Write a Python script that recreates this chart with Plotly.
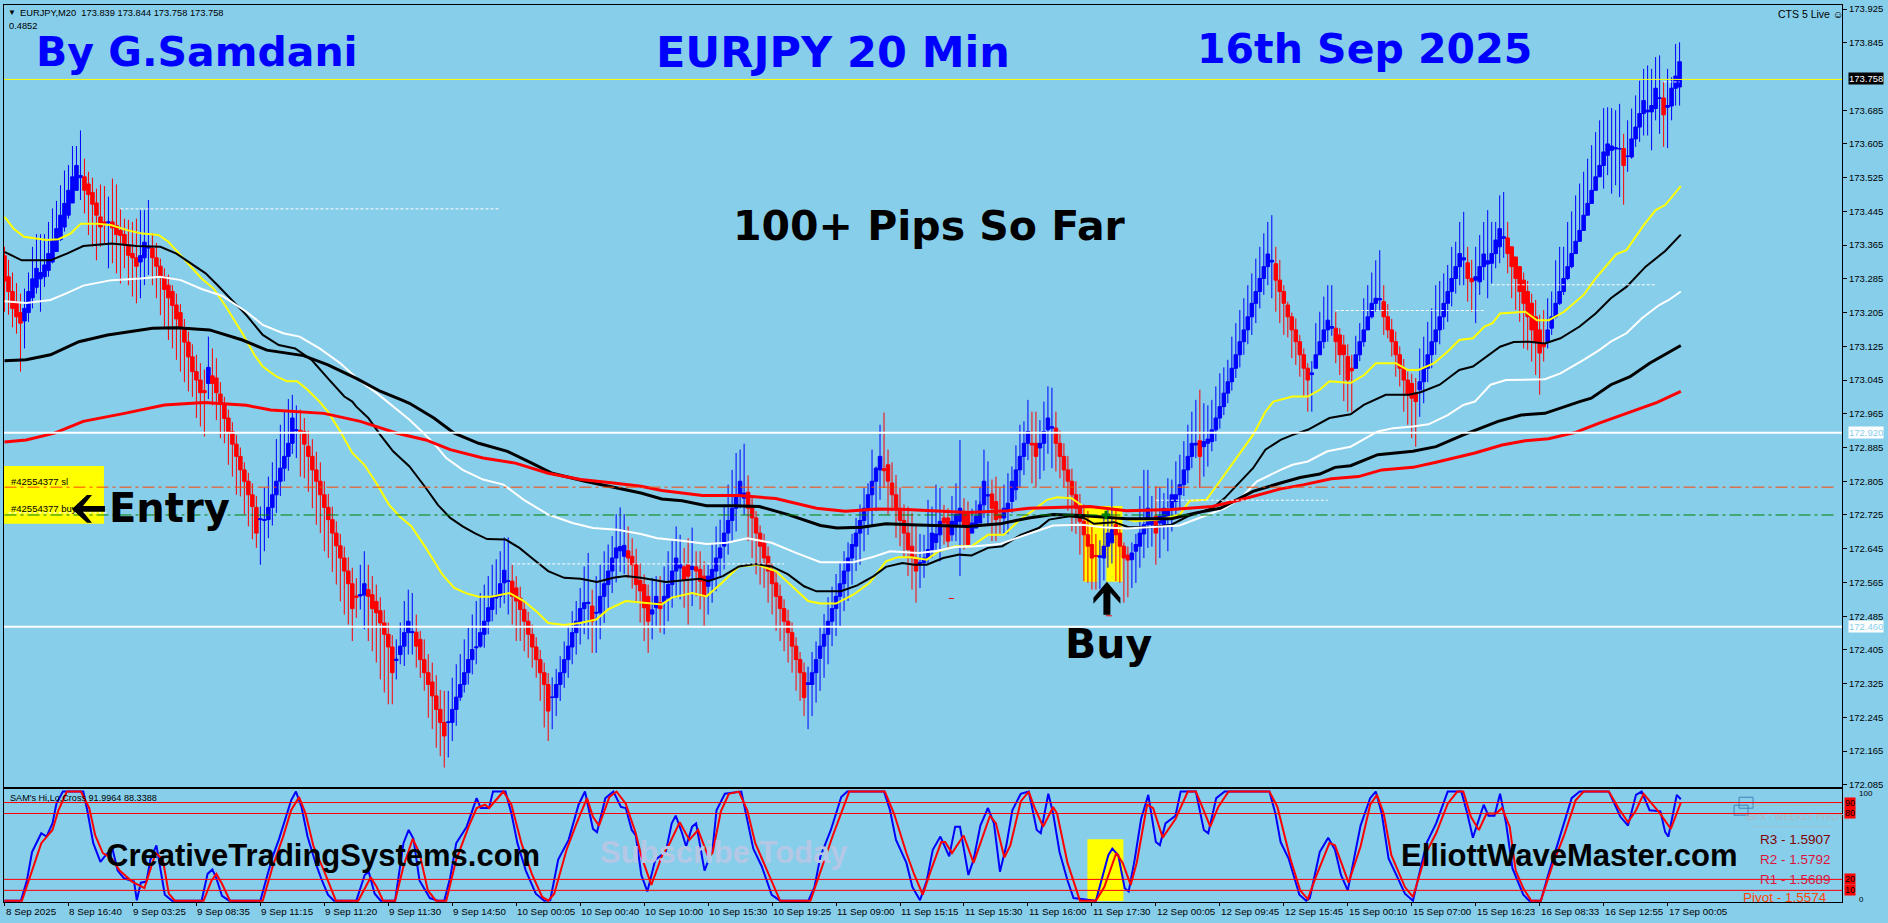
import plotly.graph_objects as go
from plotly.subplots import make_subplots

# prices are kept as points above 172.000 (1758 -> 173.758)
BASE = 172.0

opens_pts = [
    1340,1290,1255,1230,1205,1185,1205,1240,1265,1285,
    1290,1305,1325,1350,1378,1408,1436,1465,1495,1525,
    1527,1510,1490,1465,1432,1420,1418,1420,1412,1400,
    1390,1365,1345,1335,1325,1335,1358,1358,1335,1315,
    1290,1270,1255,1223,1205,1165,1135,1100,1065,1045,
    1020,1037,1055,1050,1012,986,955,923,893,864,
    832,805,773,743,714,712,714,743,773,805,
    836,864,895,925,926,923,888,864,832,805,
    773,743,714,682,652,623,592,562,533,533,
    535,548,536,520,498,469,442,412,380,394,
    414,446,446,447,430,382,351,329,296,264,
    233,233,233,264,293,323,351,382,410,414,
    442,473,501,528,532,564,567,568,552,528,
    501,473,442,412,382,351,323,292,292,323,
    351,382,412,446,473,503,515,509,492,493,
    532,560,592,623,640,627,640,627,607,570,
    560,532,490,505,517,519,528,560,592,599,
    602,607,596,602,596,580,556,572,592,623,
    651,682,712,741,773,765,779,745,718,682,
    659,627,592,564,532,503,473,446,414,382,
    351,323,323,351,385,414,442,473,503,532,
    562,592,623,651,682,712,741,773,805,832,
    835,844,801,773,741,712,682,651,623,610,
    612,623,643,660,678,718,718,678,702,710,
    734,726,682,694,706,749,770,775,757,725,
    718,738,757,785,832,864,895,895,895,884,
    895,927,931,931,895,864,832,805,773,741,
    710,678,655,629,625,623,651,659,702,682,
    651,630,619,639,651,680,702,702,722,706,
    702,722,741,757,773,797,832,864,891,901,
    887,895,899,927,955,982,1014,1041,1073,1105,
    1136,1164,1195,1227,1255,1286,1314,1325,1321,1282,
    1255,1223,1195,1164,1136,1105,1073,1058,1073,1105,
    1136,1164,1168,1168,1152,1128,1101,1073,1073,1105,
    1136,1164,1195,1227,1235,1231,1195,1164,1136,1105,
    1073,1045,1037,1014,1022,1041,1073,1105,1136,1164,
    1195,1227,1255,1286,1314,1330,1323,1286,1282,1278,
    1314,1320,1322,1345,1361,1381,1382,1361,1337,1314,
    1282,1255,1227,1195,1164,1132,1136,1168,1195,1227,
    1255,1286,1314,1345,1374,1400,1436,1464,1495,1527,
    1554,1578,1590,1593,1593,1594,1575,1574,1617,1645,
    1677,1681,1681,1689,1713,1714,1692,1695,1737,1740,
]
closes_pts = [
    1280,1255,1215,1195,1180,1215,1255,1285,1310,1300,
    1318,1345,1377,1404,1436,1464,1495,1527,1554,1530,
    1495,1485,1462,1436,1408,1416,1420,1406,1390,1388,
    1365,1341,1335,1315,1340,1372,1362,1335,1315,1290,
    1260,1240,1222,1190,1170,1135,1100,1065,1045,1015,
    1015,1075,1037,1015,990,954,923,893,864,832,
    805,773,745,682,716,714,743,773,805,836,
    864,895,955,927,922,893,864,832,805,773,
    743,714,682,652,623,592,562,503,530,536,
    562,532,503,493,469,442,412,351,383,414,
    446,473,448,414,382,351,323,296,264,233,
    201,234,264,293,323,351,382,406,412,446,
    473,505,532,535,562,594,569,532,521,501,
    473,442,412,382,351,323,260,293,323,351,
    382,414,446,473,503,517,518,473,494,532,
    562,592,623,647,650,653,623,607,560,545,
    505,473,500,532,503,532,560,592,623,607,
    572,580,603,592,568,532,580,596,623,647,
    682,712,741,773,805,777,741,718,682,651,
    623,592,562,532,503,473,446,414,382,351,
    292,327,351,382,414,442,473,503,532,562,
    592,623,655,682,712,741,773,805,836,864,
    830,805,773,741,712,682,643,623,592,612,
    623,643,682,680,710,706,663,710,726,741,
    702,655,706,722,749,805,773,741,714,718,
    741,753,805,832,864,895,923,891,864,895,
    923,955,934,895,864,832,805,773,741,710,
    678,651,623,627,628,651,682,690,678,651,
    623,618,635,655,682,702,741,718,682,722,
    741,738,773,773,797,832,864,895,895,864,
    899,905,927,955,982,1014,1041,1073,1105,1136,
    1164,1195,1227,1255,1286,1314,1344,1329,1282,1255,
    1227,1195,1164,1136,1105,1073,1045,1062,1105,1136,
    1164,1187,1172,1136,1105,1105,1045,1067,1105,1136,
    1164,1195,1227,1239,1238,1195,1164,1136,1105,1073,
    1045,1010,1002,994,1041,1073,1105,1136,1164,1195,
    1227,1255,1286,1314,1345,1335,1286,1278,1290,1314,
    1344,1328,1345,1377,1404,1385,1345,1314,1286,1255,
    1227,1195,1164,1136,1109,1124,1164,1195,1227,1255,
    1286,1314,1345,1374,1400,1436,1464,1495,1527,1554,
    1586,1605,1600,1596,1594,1554,1576,1617,1645,1677,
    1708,1685,1696,1737,1714,1674,1696,1737,1766,1800,
]
highs_pts = [
    1361,1330,1300,1275,1250,1262,1300,1361,1391,1391,
    1391,1420,1452,1470,1507,1542,1555,1600,1600,1637,
    1570,1539,1525,1499,1509,1505,1480,1523,1509,1450,
    1428,1425,1420,1428,1448,1448,1472,1393,1370,1333,
    1310,1295,1270,1250,1225,1190,1160,1130,1105,1085,
    1070,1148,1120,1097,1040,1005,975,945,915,885,
    850,825,800,770,745,790,816,850,905,939,
    970,1000,1010,985,975,955,925,905,875,850,
    805,775,745,710,680,650,625,600,575,607,
    639,607,580,560,530,500,470,440,430,470,
    521,548,540,489,450,430,395,375,345,310,
    308,308,339,371,395,430,457,489,521,540,
    560,580,607,620,639,672,672,607,580,555,
    520,495,465,435,405,375,350,340,360,390,
    425,461,497,521,552,603,635,548,580,607,
    639,655,675,727,743,727,698,670,645,610,
    584,560,576,580,580,603,639,663,698,678,
    647,670,695,639,639,615,607,655,698,714,
    749,797,832,872,880,894,819,769,734,700,
    680,650,610,590,560,525,500,470,435,400,
    375,365,400,425,460,490,530,555,585,610,
    639,660,680,718,750,789,800,880,840,939,
    968,880,850,820,790,750,745,730,700,680,
    678,761,745,797,789,749,741,770,800,903,
    765,757,740,760,790,880,852,809,816,790,
    797,824,840,890,939,947,998,970,970,950,
    994,1030,1027,970,925,895,865,835,805,775,
    750,735,700,680,665,720,740,790,735,700,
    660,650,660,680,770,832,832,770,793,790,
    777,812,809,852,868,900,939,970,998,1022,
    990,985,998,1030,1061,1075,1093,1148,1180,1211,
    1239,1270,1298,1333,1361,1393,1420,1436,1361,1330,
    1270,1231,1205,1191,1152,1120,1085,1090,1180,1207,
    1243,1270,1270,1207,1168,1152,1130,1105,1150,1180,
    1239,1270,1300,1329,1353,1270,1225,1190,1160,1125,
    1095,1065,1060,1050,1120,1148,1183,1215,1270,1280,
    1298,1318,1361,1373,1420,1444,1361,1330,1361,1389,
    1420,1448,1420,1420,1483,1491,1420,1361,1333,1310,
    1300,1280,1250,1235,1200,1211,1239,1255,1329,1361,
    1361,1420,1445,1483,1511,1539,1570,1602,1633,1661,
    1690,1692,1690,1685,1700,1629,1661,1689,1720,1755,
    1783,1791,1783,1811,1815,1752,1783,1763,1842,1846,
]
lows_pts = [
    1207,1200,1170,1155,1065,1120,1183,1215,1250,1207,
    1266,1290,1322,1355,1375,1397,1428,1470,1505,1472,
    1440,1389,1361,1329,1361,1369,1310,1322,1298,1274,
    1310,1270,1243,1227,1239,1270,1294,1270,1239,1199,
    1168,1140,1120,1093,1065,1040,1018,1005,955,935,
    911,1000,985,950,907,895,844,816,773,769,
    726,698,667,647,607,639,670,700,730,770,
    805,830,870,860,816,812,780,741,702,682,
    639,623,590,560,520,489,465,426,481,501,
    454,426,402,375,335,304,276,276,335,371,
    367,394,394,363,339,308,244,217,173,153,
    126,150,189,225,284,304,323,347,371,410,
    410,442,473,489,505,515,489,465,426,426,
    402,386,363,339,284,221,189,217,248,284,
    315,339,371,394,418,442,430,398,398,430,
    469,505,540,565,590,585,575,550,520,470,
    426,398,430,458,446,442,473,505,528,525,
    505,465,509,532,501,461,489,517,544,580,
    596,631,663,686,741,726,663,623,584,560,
    552,517,489,450,426,402,375,351,308,284,
    248,217,248,280,308,339,371,414,438,461,
    497,521,560,592,607,639,678,702,734,761,
    789,726,734,671,651,623,580,548,517,552,
    576,607,623,639,615,655,647,663,663,580,
    643,659,686,718,757,718,700,663,663,680,
    682,680,730,760,790,820,855,800,790,810,
    830,870,836,828,812,790,735,686,680,631,
    568,564,548,548,550,570,600,610,568,564,
    517,530,552,564,600,623,647,650,607,623,
    667,639,686,718,741,770,800,836,860,789,
    816,840,876,900,930,962,990,1020,1050,1075,
    1105,1130,1152,1180,1215,1247,1270,1239,1207,1180,
    1152,1146,1097,1081,1053,1006,970,970,1093,1120,
    1120,1136,1150,1085,1057,995,970,970,1085,1090,
    1124,1164,1191,1207,1211,1152,1144,1101,1053,1030,
    970,939,907,887,958,990,1040,1073,1105,1130,
    1165,1183,1220,1250,1270,1270,1231,1207,1180,1247,
    1282,1239,1274,1310,1322,1335,1298,1239,1211,1183,
    1120,1116,1089,1057,1010,1089,1120,1152,1191,1223,
    1247,1282,1310,1349,1381,1412,1444,1475,1511,1531,
    1499,1531,1487,1507,1479,1461,1539,1570,1598,1610,
    1625,1625,1590,1661,1629,1598,1595,1661,1696,1696,
]

# moving averages: bar number and level, read at the visible bends
yellow_x = [0,2.3,4.9,10.5,13.5,16.6,19.1,23.2,26.8,30.9,34,38.5,41,44.1,47.2,49.3,52.3,55.4,59.5,62.5,64.6,68.1,70.7,73.2,75.8,78.8,
    80.9,84,87,90,93,96.2,98.8,101.8,105.4,109.5,112.5,115.6,118.6,121.7,126.3,129.9,133,136,140,144,148,151,155.4,159.2,
    164.4,166.9,172,175.6,179,183.7,188.3,192.9,197.5,201,204,208,212.3,216.4,220.5,223.5,226.6,230.7,233.7,237.8,241.9,246,250,254,257,260.8,263.3,266.9,270.5,274.6,279.7,282.7,288.8,294,296.5,300.6,304,308.2,312.3,315.4,317.4,
    322.2,326,329,331.4,336.7,340.1,343,348,351,353.7,357.6,361,363.9,367.3,370.2,372.2,374.1,380.4,383.3,386.3,390.1,395,398,401.3,403.2,405.7,410,413,415.4,419.3]
yellow_y = [1432,1404,1385,1377,1379,1393,1416,1416,1412,1400,1393,1389,1373,1341,1310,1286,1262,1219,1156,1105,1077,1053,1042,1042,1022,994,
    970,923,872,844,801,749,722,698,647,584,552,539,531,531,540,521,497,469,464,469,477,501,521,517,
    513,529,540,532,560,603,607,592,552,521,515,515,536,564,615,625,625,619,639,651,651,678,678,714,734,761,767,765,741,722,718,710,714,726,759,761,805,860,915,970,994,
    1006,1006,1022,1042,1038,1057,1085,1085,1069,1069,1085,1113,1140,1144,1172,1180,1203,1207,1187,1187,1207,1247,1286,1322,1344,1353,1412,1448,1460,1505]

black_thin_x = [0,4.3,11.5,15.6,19.7,26.8,33,39,43,47.2,50.3,53.3,57.4,60.5,64.6,68.6,72.7,76.8,80.9,85,87,
    88,91,94,97.2,101.3,105.4,108.4,111.5,114.6,117.6,120.7,125.3,128.8,131.9,136,140,144.1,148.2,152.3,155.4,159.2,
    165.4,169.5,174,176,179.7,183.7,187.8,191.9,196,200,203.1,209.2,213.3,217.4,220.5,224.6,227.6,230.7,234.8,238.8,241.9,246,249.6,254.2,258.7,261.3,266.4,270,272.5,277.6,281.2,286.8,291.9,296,302.1,305.2,309.2,312.3,315.4,319.2,
    322.2,326,331.4,336.7,340,342.6,345.5,351.3,354.2,359,363.9,367.3,370.7,374.1,377.5,381.4,385.3,389.2,394,398,401.8,405.7,410.5,415.4,419.3]
black_thin_y = [1349,1329,1329,1345,1363,1369,1363,1361,1345,1318,1298,1270,1231,1199,1152,1128,1120,1093,1049,1006,994,
    982,955,915,876,840,789,749,718,698,682,668,667,647,623,592,576,574,566,576,580,576,
    566,570,574,568,580,603,609,603,584,556,544,544,558,580,602,611,607,607,623,631,629,647,651,678,694,714,722,718,704,708,696,696,702,722,741,765,805,836,880,903,
    915,927,955,964,986,998,1010,1010,1016,1034,1069,1077,1101,1124,1135,1136,1132,1144,1172,1203,1239,1266,1314,1351,1390]

white_x = [0,5.4,11.5,15.6,19.7,26.8,34,39,44.1,49.3,54.4,60.5,64.6,69.7,73.8,78.8,84,89,93.1,95.7,
    97.2,101.3,104.4,107.4,110.5,114.6,119.7,124.8,129.9,136,142.1,147.2,153.3,159.2,
    163.3,169.5,175.6,180.7,185.8,191.9,198,204.1,212.3,217.4,221.5,228.6,232.7,237.8,242.9,249,253.1,258.2,262.3,269.5,274.6,280.7,287.8,293.9,300,305.2,309.2,313.3,319.2,
    322.2,326,330.9,336.7,343.5,347.4,352.3,356.2,361,364.9,367.8,371.7,375.6,385.3,389.2,395,398.9,401.8,405.7,409.5,413.9,416.3,419.3]
white_y = [1232,1228,1235,1251,1269,1282,1286,1290,1282,1261,1245,1207,1176,1156,1148,1120,1085,1042,1014,994,
    982,951,923,895,860,832,809,797,761,726,706,694,690,680,
    670,664,656,659,670,659,635,613,613,626,639,635,639,649,651,656,670,686,700,702,696,693,696,700,722,741,765,805,832,
    844,852,876,887,923,931,935,940,962,986,994,1034,1045,1047,1061,1093,1116,1136,1156,1191,1223,1235,1255]

black_thick_x = [0,5.4,11.5,18.6,25.8,37,43.1,51.3,59.5,65.6,74.8,80.9,88,94.1,99.3,
    101.3,107.4,112.5,118.6,125.8,131.9,137,145.2,152.3,159.2,
    164.4,169.5,175.6,182.7,188.8,196,204.1,208.2,214.4,220.5,226.6,233.7,240.9,249,256.2,262.3,269.5,274.6,280.7,291.9,298,304.1,312.3,319.2,
    324.1,329,332.8,336.7,343.5,352.3,358.1,364.9,373.6,379.4,385.3,394,396.9,401.8,406.6,411.5,419.3]
black_thick_y = [1091,1093,1105,1136,1152,1168,1169,1164,1140,1116,1103,1081,1049,1018,998,
    990,955,919,895,876,848,824,805,790,777,
    763,759,747,747,745,726,700,694,696,704,702,700,698,704,718,726,724,720,716,716,730,741,781,801,
    814,822,838,842,868,876,887,915,947,962,966,994,1002,1034,1053,1085,1127]

red_x = [0,5.4,12.5,19.7,30,40,50,60.5,66.6,79.9,89,98.2,105.4,111.5,119.7,127.8,136,144.1,152.3,159.2,
    164.4,174.6,183.7,192.9,203.1,210.3,218.4,225.6,240.9,251.1,256.2,266.4,271.5,280.7,291.9,302.1,309.2,319.2,
    325.1,331.9,338.7,344.5,352.3,358.1,367.8,374.6,380.4,386.2,393,398.9,406.6,413.4,419.3]
red_y = [898,903,919,947,966,986,992,985,974,966,947,919,903,880,860,848,824,809,801,793,
    783,771,771,764,741,734,739,738,731,735,741,743,745,735,738,745,761,787,
    797,811,816,832,838,850,872,891,901,906,921,943,970,992,1018]

# oscillator panel
stoch_blue_x = [0,4.1,5.6,6.9,9.2,10.5,12,13,14.6,19.7,20.7,22.2,24,25.3,27,28.3,29.9,32.4,33.1,34.1,35.5,36.5,38,39,40.1,41.9,49.3,50.8,52,53,54.4,56.2,64,65.6,67.1,68.6,70.2,71.7,72.9,74.3,75.8,77.8,79.4,80.9,82.4,88,90.1,91.1,92.6,94.1,97.7,99.8,101.1,102.3,103.8,106.4,108.4,110,111.5,113,115.6,118.1,119.1,121.2,122.2,125.3,126.8,128.3,130.4,132.9,135,136.5,138.5,141.1,143.6,145.2,147.2,148.2,150.3,152.3,154.2,155.4,156.9,157.9,159.3,
    160.8,162.8,165.4,166.9,167.9,169.5,170.5,172,173,175.1,177.1,178.1,180.2,184.3,185.3,187.3,189.4,191.9,194,201.1,202.6,204.1,206.7,209.3,210.8,220,221.5,223,225.6,227.1,229,230.7,232.2,234.1,236.3,237.8,239,241.1,242.4,244.1,246,247.5,249,250.6,252.1,254.2,256.2,258.2,259.2,261.1,262.3,263.9,265.9,267.4,273,274.6,276.1,277.1,278.6,280.2,281.2,282.7,284.3,286.1,288,289,290.4,292.9,294.2,298,300,301.1,303.1,305.2,316.4,317.9,319.2,
    321.2,323.9,325.6,326.5,329,331.1,332.8,334.3,336,339.2,341.6,343,344.5,346.2,348.4,350.3,352.3,353.7,355.7,358.1,361,364.4,365.9,367.3,370,371.2,372.7,374.1,375.6,377.2,379.9,381.4,384.3,386.2,389.2,392,394,401.3,402.7,404.2,406.1,408.1,409.5,411.5,414.2,415.4,416.2,418.3,419.3]
stoch_blue_y = [0.6,0.6,19,45,62,59,71,89,100,100,83,53,36,42,48,28,21,18,1,17,18,38,51,28,6,0.6,0.6,25,29,21,5,0.6,0.6,22,41,56,74,92,100,86,59,35,19,6,0.6,0.6,24,27,7,0.6,0.6,53,65,57,19,3,0.6,0.6,22,53,68,94,85,85,100,100,80,53,28,7,0.6,1,38,56,88,100,66,63,94,100,86,85,65,60,24,
    9,38,45,71,78,62,50,68,71,28,47,83,98,100,83,48,32,6,0.6,0.6,13,41,65,95,100,100,83,56,35,13,1,19,47,59,41,68,68,24,38,69,85,71,27,51,83,98,100,65,62,98,80,45,19,3,0.6,22,42,48,42,12,9,38,75,97,54,51,71,78,100,100,65,62,94,100,100,80,54,
    39,6,0.6,3,45,58,47,24,10,69,94,100,80,39,22,7,0.6,22,53,71,100,100,80,58,88,78,78,98,71,30,6,0.6,0.6,25,60,94,100,100,89,77,69,97,100,83,82,63,59,97,93]

stoch_red_x = [0,4.35,6.9,9.2,12,13.5,15.6,19.1,21.2,22.7,24.6,26.8,28.8,31.9,35,37.8,39.6,41.1,42.6,49.8,51.8,53,54.4,56.4,64.6,67.1,69.7,71.7,73.7,75.3,77.3,79.9,82.9,88.5,91.6,93.1,94.7,97.7,99.8,102.1,103.8,105.9,107.9,110.5,113,116.1,118.1,120.2,121.2,124.8,126.8,129.3,131.9,134.5,136,137.5,140.6,143.1,145.7,147.2,148.7,151.3,153.1,155.4,157.9,159.3,
    161.8,164.4,166.4,168.9,171.3,173.5,176.1,177.1,179.2,181.2,183.7,185.8,187.8,190.9,194,201.6,204.1,207.2,211.3,220.2,222.5,225.6,227.6,229.7,231.7,234.3,235.3,237,239.9,242.4,246.5,248,250.1,251.6,254.2,256.2,257.7,259.8,262.3,263.3,265.9,269,273,275.1,278.1,279.7,281.7,283.2,285.8,287.3,289.7,292.9,296,298,299.6,301.6,303.6,306.2,309.3,316.4,318.4,319.2,
    321.7,324.1,326,328,331.4,332.8,336.2,339.2,341.6,343.3,345,346.9,350.3,352.3,355.7,358.1,361,363.4,364.9,366.8,368.8,370.7,373.1,374.6,376.5,378,379.9,381.9,384.3,387.2,390.1,393,395,401.3,403.7,406.1,408.1,410,413.9,416.8,419.3]
stoch_red_y = [0.6,0.6,28,53,65,83,100,100,85,60,44,39,28,18,12,44,38,7,0.6,0.6,19,25,16,0.6,0.6,32,59,83,95,80,50,28,0.6,0.6,22,13,0.6,0.6,32,57,44,10,0.6,0.6,38,68,85,88,85,100,88,53,25,4,0.6,7,47,71,94,77,69,95,100,89,62,41,
    15,41,53,72,56,65,40,44,82,98,100,83,53,27,0.6,0.6,28,60,100,100,80,44,24,6,28,54,54,44,60,35,78,71,40,51,91,100,85,68,86,80,35,0.6,0.6,13,44,35,15,35,88,85,58,75,100,100,86,68,86,100,100,100,86,74,
    38,10,2,22,53,51,17,50,88,97,80,42,13,4,45,62,89,100,100,77,65,80,80,85,68,28,12,0.6,0.6,33,60,92,100,100,85,72,83,98,81,66,90]

stoch_levels = [90, 80, 20, 10]

# horizontal levels
last_price = 173.758
white_levels = [172.920, 172.460]
order_sl = 172.791
order_buy = 172.725
dotted_bars = [(1, 26), (29, 124), (127, 195), (288, 331), (333, 370), (372, 413), (415, 419)]
dotted_prices = [172.730, 173.451, 172.609, 172.760, 173.210, 173.271, 173.752]

tick_prices = ["173.925","173.845","173.765","173.685","173.605","173.525","173.445","173.365","173.285","173.205","173.125","173.045",
               "172.965","172.885","172.805","172.725","172.645","172.565","172.485","172.405","172.325","172.245","172.165","172.085"]
# 173.765 is hidden behind the black last price box in the platform
tick_prices_shown = [t for t in tick_prices if t != "173.765"]

time_labels = ["8 Sep 2025","8 Sep 16:40","9 Sep 03:25","9 Sep 08:35","9 Sep 11:15","9 Sep 11:20","9 Sep 11:30","9 Sep 14:50",
               "10 Sep 00:05","10 Sep 00:40","10 Sep 10:00","10 Sep 15:30","10 Sep 19:25","11 Sep 09:00","11 Sep 15:15","11 Sep 15:30",
               "11 Sep 16:00","11 Sep 17:30","12 Sep 00:05","12 Sep 09:45","12 Sep 15:45","15 Sep 00:10","15 Sep 07:00","15 Sep 16:23",
               "16 Sep 08:33","16 Sep 12:55","17 Sep 00:05"]
time_bars = [16 * n for n in range(len(time_labels))]


def price(points):
    return [BASE + p / 1000 for p in points]


# page pixels to paper coordinates (plot area is 3..1842 by 3..902)
def px_x(px):
    return (px - 3) / 1839


def px_y(py):
    return (902 - py) / 899


SKY = "#87CEEB"
MT4_FONT = "Liberation Sans"
BIG_FONT = "Liberation Sans"
WIDE_FONT = "DejaVu Sans"

fig = make_subplots(rows=2, cols=1, shared_xaxes=True, vertical_spacing=2 / 899, row_heights=[784, 113])

bars = list(range(len(opens_pts)))
fig.add_trace(go.Candlestick(
    x=bars, open=price(opens_pts), high=price(highs_pts), low=price(lows_pts), close=price(closes_pts),
    increasing=dict(line=dict(color="#0000FF", width=1), fillcolor="#0000FF"),
    decreasing=dict(line=dict(color="#FF0000", width=1), fillcolor="#FF0000"),
    whiskerwidth=0, showlegend=False), row=1, col=1)

for xs, ys, color, width in [(yellow_x, yellow_y, "#FFFF00", 2), (black_thin_x, black_thin_y, "#000000", 2),
                             (white_x, white_y, "#FFFFFF", 2), (black_thick_x, black_thick_y, "#000000", 3),
                             (red_x, red_y, "#FF0000", 3)]:
    fig.add_trace(go.Scatter(x=xs, y=price(ys), mode="lines", line=dict(color=color, width=width), showlegend=False), row=1, col=1)

fig.add_trace(go.Scatter(x=stoch_blue_x, y=stoch_blue_y, mode="lines", line=dict(color="#0000FF", width=2), showlegend=False), row=2, col=1)
fig.add_trace(go.Scatter(x=stoch_red_x, y=stoch_red_y, mode="lines", line=dict(color="#FF0000", width=2), showlegend=False), row=2, col=1)

# entry marker on the buy line
fig.add_trace(go.Scatter(x=[275.5], y=[order_buy], mode="markers",
                         marker=dict(symbol="cross", size=7, color="#008000"), showlegend=False), row=1, col=1)

# small red ticks left by the trade arrows
fig.add_trace(go.Scatter(x=[236.2, 237.5, None, 275.5, 277.0], y=[172.527, 172.527, None, 172.486, 172.486], mode="lines",
                         line=dict(color="#FF0000", width=1), showlegend=False), row=1, col=1)

for (start, end), level in zip(dotted_bars, dotted_prices):
    fig.add_trace(go.Scatter(x=[start, end], y=[level, level], mode="lines",
                             line=dict(color="#FFFFFF", width=1, dash="3px,2px"), showlegend=False), row=1, col=1)

fig.add_hline(y=last_price, line=dict(color="#FFFF00", width=1), row=1, col=1)
for level in white_levels:
    fig.add_hline(y=level, line=dict(color="#FFFFFF", width=2), row=1, col=1)
fig.add_shape(type="line", xref="x", yref="y", x0=0, x1=458.2, y0=order_sl, y1=order_sl,
              line=dict(color="#FF4500", width=1, dash="12px,4px,3px,4px"))
fig.add_shape(type="line", xref="x", yref="y", x0=0, x1=458.2, y0=order_buy, y1=order_buy,
              line=dict(color="#008000", width=1, dash="12px,4px,3px,4px"))
for level in stoch_levels:
    fig.add_hline(y=level, line=dict(color="#FF0000", width=1), row=2, col=1)


def box(x0, y0, x1, y1, color="#FFFF00", line_color=None):
    fig.add_shape(type="rect", xref="paper", yref="paper", x0=px_x(x0), x1=px_x(x1), y0=px_y(y0), y1=px_y(y1),
                  fillcolor=color, layer="below", line=dict(color=line_color or color, width=1 if line_color else 0))


box(3, 465, 103, 523)
box(1083, 505, 1122, 555)
box(1083, 555, 1097, 581)
box(1106, 555, 1122, 581)
box(1087, 839, 1123, 901)
# pivots panel icon and rules
box(1734, 805, 1748, 815, color="rgba(0,0,0,0)", line_color="#4682B4")
box(1739, 797, 1753, 808, color="rgba(0,0,0,0)", line_color="#4682B4")
box(1752, 805, 1832, 805.5, color="#A9B7C0")
box(1752, 826, 1832, 826.5, color="#A9B7C0")


def label(text, x, y, size, color="#000000", family=MT4_FONT, anchor="left", bgcolor=None):
    fig.add_annotation(xref="paper", yref="paper", x=px_x(x), y=px_y(y), text=text, showarrow=False,
                       xanchor=anchor, yanchor="middle", font=dict(family=family, size=size, color=color),
                       bgcolor=bgcolor, borderpad=0)


# hand drawn arrows on the screenshot, outline given in page pixels
def arrow(points):
    path = "M " + " L ".join(f"{px_x(x)},{px_y(y)}" for x, y in points) + " Z"
    fig.add_shape(type="path", xref="paper", yref="paper", path=path, fillcolor="#000000", line=dict(width=0))


arrow([(71, 508), (86, 494), (91, 494), (82, 505), (104, 505), (104, 511), (82, 511), (91, 522), (86, 522)])
arrow([(1106.5, 581), (1120, 597), (1120, 603), (1110, 592), (1110, 614), (1103, 614), (1103, 592), (1093, 603), (1093, 597)])

# big headlines
label("<b>By G.Samdani</b>", 34, 50, 41, "#0000FF", WIDE_FONT)
label("<b>EURJPY 20 Min</b>", 654, 50, 43, "#0000FF", WIDE_FONT)
label("<b>16th Sep 2025</b>", 1196, 47, 41, "#0000FF", WIDE_FONT)
label("<b>100+ Pips So Far</b>", 731, 224, 41, "#000000", WIDE_FONT)
label("<b>Entry</b>", 107, 507, 40, "#000000", WIDE_FONT)
label("<b>Buy</b>", 1064, 643, 41, "#000000", WIDE_FONT)
label("<b>Subscribe Today</b>", 598, 852, 31, "#B4C8E6", BIG_FONT)
label("<b>CreativeTradingSystems.com</b>", 104, 855, 31, "#000000", BIG_FONT)
label("<b>ElliottWaveMaster.com</b>", 1400, 855, 31, "#000000", BIG_FONT)

# platform texts
label("▼", 6, 11, 8)
label("EURJPY,M20  173.839 173.844 173.758 173.758", 18, 11, 9.3)
label("0.4852", 7, 24, 9.3)
label("CTS 5 Live ☺", 1777, 12, 10.5)
label("SAM's Hi,Lo,Cross 91.9964 88.3388", 8, 798, 9.1)
label("#42554377 sl", 9, 481, 9.5)
label("#42554377 buy", 9, 508, 9.5)

label("IBFX - WEEKLY PIVOTS", 1744, 816, 9.5, "#A9B7C0")
label("R3 - 1.5907", 1759, 839, 13.5, "#800000")
label("R2 - 1.5792", 1759, 859, 13.5, "#DC143C")
label("R1 - 1.5689", 1759, 879, 13.5, "#DC143C")
label("Pivot - 1.5574", 1742, 897, 13.5, "#FF4500")

# price boxes on the right scale
label("173.758", 1848, 76.5, 9.5, "#FFFFFF", bgcolor="#000000")
label("172.920", 1848, 431, 9.5, SKY, bgcolor="#FFFFFF")
label("172.460", 1848, 626, 9.5, SKY, bgcolor="#FFFFFF")
label("100", 1858, 793, 8)
label("90", 1844, 802.7, 9, bgcolor="#FF0000")
label("80", 1844, 813.3, 9, bgcolor="#FF0000")
label("20", 1844, 879.3, 9, bgcolor="#FF0000")
label("10", 1844, 890.3, 9, bgcolor="#FF0000")
label("0", 1858, 899, 8)

for bar, text in zip(time_bars, time_labels):
    fig.add_annotation(xref="x2", yref="paper", x=bar, y=px_y(912), text=text, showarrow=False,
                       xanchor="left", yanchor="middle", font=dict(family=MT4_FONT, size=9.8, color="#000000"), borderpad=0)

axis_style = dict(showgrid=False, zeroline=False, showline=True, linecolor="#000000", linewidth=1, mirror=True)
# the small shift puts every bar on a whole pixel so the wicks stay crisp
fig.update_xaxes(range=[-0.125, 459.625], rangeslider_visible=False, showticklabels=False, **axis_style)
fig.update_xaxes(tickvals=time_bars, ticks="outside", ticklen=3, tickcolor="#000000", row=2, col=1)
fig.update_yaxes(range=[172.0793, 173.9345], side="right", tickmode="array",
                 tickvals=[float(t) for t in tick_prices_shown], ticktext=tick_prices_shown,
                 ticks="outside", ticklen=4, tickcolor="#000000",
                 tickfont=dict(family=MT4_FONT, size=9.5, color="#000000"), row=1, col=1, **axis_style)
fig.update_yaxes(range=[-0.6, 102.1], side="right", showticklabels=False, row=2, col=1, **axis_style)

fig.update_layout(width=1888, height=923, margin=dict(l=3, r=46, t=3, b=21),
                  paper_bgcolor=SKY, plot_bgcolor=SKY, showlegend=False, dragmode=False, hovermode=False,
                  boxgap=0.12, boxgroupgap=0)

fig.write_html("out.html", config={"displayModeBar": False},
               post_script="document.body.style.margin='0';document.body.style.background='#87CEEB';")
